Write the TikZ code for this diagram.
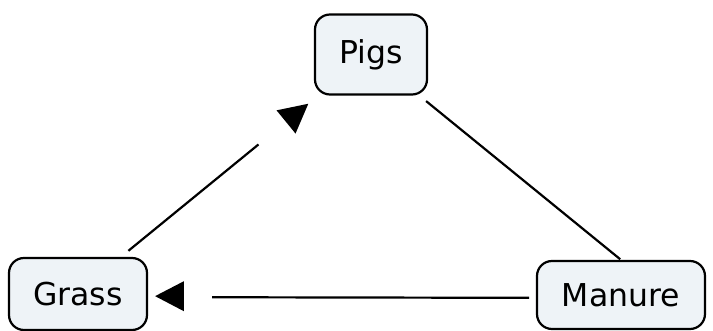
\documentclass[tikz,border=0pt]{standalone}
\usepackage{fontspec}
\setmainfont{DejaVu Sans}
\usetikzlibrary{calc}
\definecolor{boxfill}{HTML}{EEF3F7}
\begin{document}
\begin{tikzpicture}[x=1pt,y=-1pt,
  concept/.style={draw=black, line width=2.2pt, rounded corners=15pt,
    fill=boxfill, inner sep=0pt, font=\fontsize{31.5}{38}\selectfont},
  link/.style={line width=2.2pt},
  head/.style={fill=black}]
\useasboundingbox (0,0) rectangle (713,331);

% concepts
\node[concept, minimum width=112pt, minimum height=80pt] (pigs) at (371,54.5) {Pigs};
\node[concept, minimum width=138pt, minimum height=72pt] (grass) at (78,294) {Grass};
\node[concept, minimum width=168pt, minimum height=68pt] (manure) at (621,295) {Manure};

% Pigs -- Manure
\draw[link, shorten >=1pt] ([xshift=-2pt,yshift=-5.5pt]pigs.south east) -- (manure.north);

% Manure -> Grass
\draw[link] ($(manure)!0.169!(grass)+(0,3)$) -- ($(manure)!0.753!(grass)+(0,3)$);
\coordinate (mgB) at ($(manure)!0.805!(grass)+(0,2)$);
\coordinate (mgT) at ($(manure)!0.858!(grass)+(0,2)$);
\fill[head] (mgT) -- ($(mgB)!15pt!90:(mgT)$) -- ($(mgB)!15pt!-90:(mgT)$) -- cycle;

% Grass -> Pigs
\draw[link] ($(grass)!0.172!(pigs)+(0,-2)$) -- ($(grass)!0.616!(pigs)+(0,-2)$);
\coordinate (gpB) at ($(grass)!0.710!(pigs)+(0,-2)$);
\coordinate (gpT) at ($(grass)!0.786!(pigs)+(0,-2)$);
\fill[head] (gpT) -- ($(gpB)!15pt!90:(gpT)$) -- ($(gpB)!15pt!-90:(gpT)$) -- cycle;
\end{tikzpicture}
\end{document}
